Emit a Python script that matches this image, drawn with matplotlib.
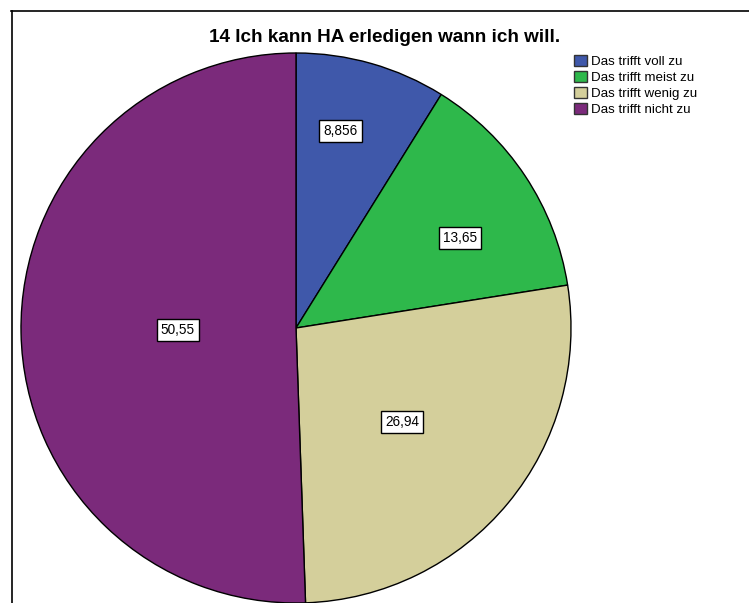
import matplotlib
matplotlib.use("Agg")
import matplotlib.pyplot as plt
import numpy as np
from matplotlib.lines import Line2D

title = "14 Ich kann HA erledigen wann ich will."
categories = ["Das trifft voll zu", "Das trifft meist zu", "Das trifft wenig zu", "Das trifft nicht zu"]
values = [8.856, 13.65, 26.94, 50.55]
value_labels = ["8,856", "13,65", "26,94", "50,55"]
colors = ["#3F58AA", "#2EB84B", "#D4CF9B", "#7B2A7B"]

# label placement (fraction along wedge, radius fraction)
label_frac = [0.40, 0.60, 0.52, 0.50]
label_rad = [0.735, 0.68, 0.516, 0.43]

plt.rcParams['font.family'] = ['Liberation Sans', 'DejaVu Sans']

W, H = 749, 603
fig = plt.figure(figsize=(W / 100, H / 100), dpi=100)
ax = fig.add_axes([0, 0, 1, 1])
ax.set_axis_off()

cx, cy, R = 296, 328, 275
wedges, _ = ax.pie(values, colors=colors, startangle=90, counterclock=False,
                   radius=1.0, center=(0, 0), frame=False,
                   wedgeprops=dict(edgecolor="black", linewidth=1.0))
ax.set_xlim(-cx / R, (W - cx) / R)
ax.set_ylim(-(H - cy) / R, cy / R)
ax.set_aspect('auto')

for w, lab, f, r in zip(wedges, value_labels, label_frac, label_rad):
    ang = np.deg2rad(w.theta2 + (w.theta1 - w.theta2) * f)
    ax.text(r * np.cos(ang), r * np.sin(ang), lab, ha="center", va="center",
            fontsize=9.8, color="black",
            bbox=dict(boxstyle="square,pad=0.3", facecolor="white", edgecolor="black", linewidth=1.0))

fig.text(385 / W, 1 - 37 / H, title, ha="center", va="center", fontsize=13.6, fontweight="bold")

leg = fig.legend(wedges, categories, loc="upper left", bbox_to_anchor=(574 / W, 1 - 55 / H),
                 frameon=False, fontsize=9.6, handlelength=0.95, handleheight=0.95,
                 handletextpad=0.3, labelspacing=0.2, borderpad=0, borderaxespad=0)
for h in leg.legend_handles:
    h.set_linewidth(1.0)
    h.set_edgecolor("#333333")

# outer frame lines (top and left)
fig.add_artist(Line2D([11 / W, 1.0], [1 - 10.5 / H, 1 - 10.5 / H], transform=fig.transFigure, color="black", linewidth=1.2))
fig.add_artist(Line2D([11.5 / W, 11.5 / W], [0, 1 - 10.5 / H], transform=fig.transFigure, color="black", linewidth=1.2))

fig.savefig("out.png", dpi=100)
